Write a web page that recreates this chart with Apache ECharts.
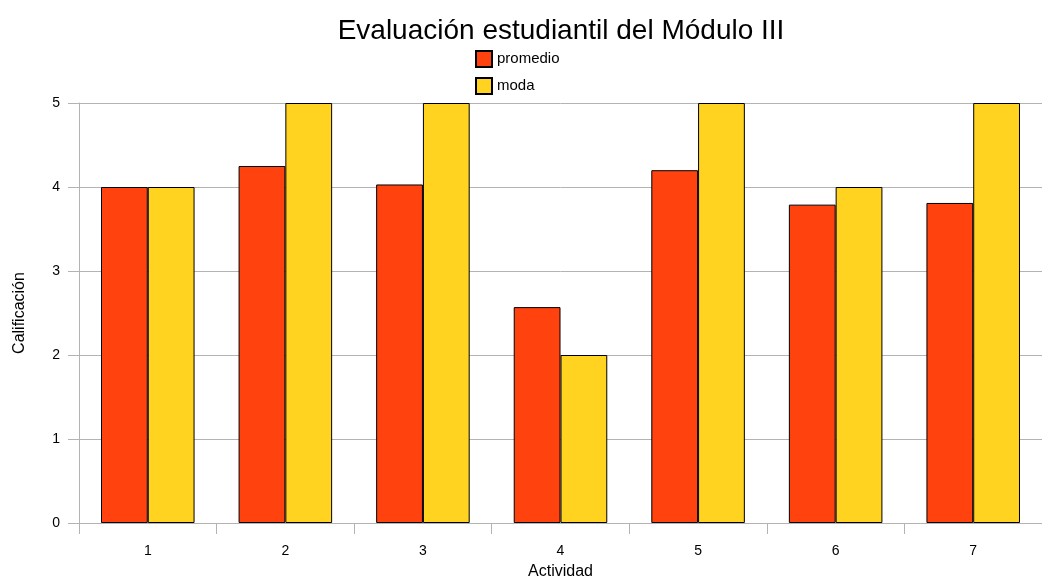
<!DOCTYPE html>
<html>
<head>
<meta charset="utf-8">
<script src="https://cdn.jsdelivr.net/npm/echarts@6/dist/echarts.min.js"></script>
<style>html,body{margin:0;padding:0;background:#fff}#c{width:1042px;height:578px}</style>
</head>
<body>
<div id="c"></div>
<script>
const categories = ['1','2','3','4','5','6','7'];
const promedio = [4.0, 4.25, 4.03, 2.57, 4.2, 3.79, 3.81];
const moda = [4, 5, 5, 2, 5, 4, 5];
const seriesNames = ['promedio', 'moda'];
const yTicks = [0, 1, 2, 3, 4, 5];

const chart = echarts.init(document.getElementById('c'));
const font = 'Liberation Sans, Arial, sans-serif';
chart.setOption({
  animation: false,
  title: {
    text: 'Evaluación estudiantil del Módulo III',
    left: 556, top: 12, textAlign: 'center',
    textStyle: {fontFamily: font, fontSize: 28, fontWeight: 'normal', color: '#000'}
  },
  legend: {
    orient: 'vertical', left: 470, top: 45,
    itemWidth: 16, itemHeight: 16, itemGap: 9,
    icon: 'rect',
    textStyle: {fontFamily: font, fontSize: 15, color: '#000'},
    data: seriesNames
  },
  grid: {left: 79, right: 0, top: 103, bottom: 55, containLabel: false, outerBoundsMode: 'none'},
  xAxis: {
    type: 'category', data: categories,
    name: 'Actividad', nameLocation: 'middle', nameGap: 41,
    nameTextStyle: {fontFamily: font, fontSize: 16, color: '#000'},
    axisLine: {lineStyle: {color: '#b3b3b3'}},
    axisTick: {show: true, length: 11, lineStyle: {color: '#b3b3b3'}},
    axisLabel: {fontFamily: font, fontSize: 14, color: '#000', margin: 21}
  },
  yAxis: {
    type: 'value', min: yTicks[0], max: yTicks[yTicks.length-1], interval: 1,
    name: 'Calificación', nameLocation: 'middle', nameGap: 51,
    nameTextStyle: {fontFamily: font, fontSize: 16, color: '#000'},
    axisLine: {show: true, lineStyle: {color: '#b3b3b3'}},
    axisTick: {show: true, length: 11, lineStyle: {color: '#b3b3b3'}},
    splitLine: {lineStyle: {color: '#b3b3b3'}},
    axisLabel: {fontFamily: font, fontSize: 14, color: '#000', margin: 19}
  },
  series: [
    {name: seriesNames[0], type: 'bar', data: promedio, barGap: '0%', barCategoryGap: '32%',
     itemStyle: {color: '#ff420e', borderColor: '#000', borderWidth: 1}},
    {name: seriesNames[1], type: 'bar', data: moda, barGap: '0%', barCategoryGap: '32%',
     itemStyle: {color: '#ffd320', borderColor: '#000', borderWidth: 1}}
  ]
});
</script>
</body>
</html>
